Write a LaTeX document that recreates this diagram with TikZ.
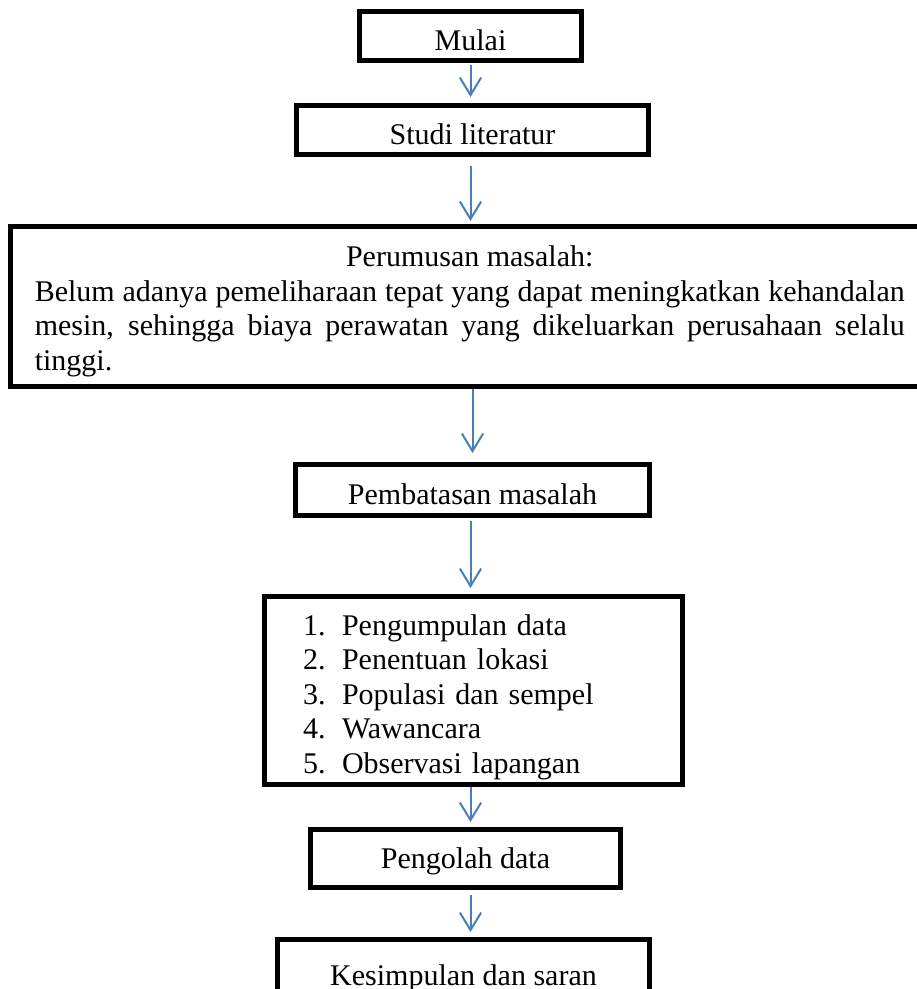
\documentclass[tikz,border=0pt]{standalone}
\usepackage{fontspec}
\setmainfont{Liberation Serif}
\usetikzlibrary{positioning,arrows.meta}
\definecolor{flowblue}{HTML}{4A7EBB}
\hyphenpenalty=10000
\tolerance=10000
\tikzset{
	stepbox/.style={
		draw, rectangle, line width=2pt, inner sep=0pt,
		minimum height=19.6pt, text height=14.4pt, text depth=2.6pt
	},
	bigbox/.style={
		draw, rectangle, line width=2pt, inner xsep=9.7pt, inner ysep=0pt,
		text width=348pt, align=justify, minimum height=64pt
	},
	listbox/.style={
		draw, rectangle, line width=2pt, inner xsep=15.4pt, inner ysep=0pt,
		text width=136.4pt, align=left, minimum height=75.2pt
	},
	flow/.style={
		-{Straight Barb[length=7pt,width=8.5pt]}, line width=0.8pt,
		draw=flowblue, shorten <=1.2pt, shorten >=2.4pt
	}
}
\begin{document}
\begin{tikzpicture}[font=\fontsize{12}{13.8}\selectfont]
				\useasboundingbox (0,0) rectangle (366.4pt,-395.6pt);
				\node[stepbox, minimum width=88.8pt] (mulai) at (188.2pt,-14.4pt) {Mulai};
				\node[stepbox, minimum width=140.8pt, below=16pt of mulai, xshift=0.8pt] (studi) {Studi literatur};
				\node[bigbox, below=26.8pt of studi, xshift=-1.1pt] (masalah) {\rule{0pt}{12pt}\hspace*{\fill}Perumusan masalah:\hspace*{\fill}\mbox{}\linebreak
					Belum adanya pemeliharaan tepat yang dapat meningkatkan kehandalan\linebreak
					mesin, sehingga biaya perawatan yang dikeluarkan perusahaan selalu\linebreak
					tinggi.};
				\node[stepbox, minimum width=141.6pt, minimum height=20.4pt, below=29.2pt of masalah, xshift=1.1pt] (batasan) {Pembatasan masalah};
				\node[listbox, below=30.4pt of batasan, xshift=0.4pt] (metode) {\rule{0pt}{13.4pt}\makebox[15.6pt][l]{1.}Pengumpulan data\\
					\makebox[15.6pt][l]{2.}Penentuan lokasi\\
					\makebox[15.6pt][l]{3.}Populasi dan sempel\\
					\makebox[15.6pt][l]{4.}Wawancara\\
					\makebox[15.6pt][l]{5.}Observasi lapangan};
				\node[stepbox, minimum width=124pt, minimum height=23.2pt, text height=10.2pt, below=16pt of metode, xshift=-3.2pt] (olah) {Pengolah data};
				\node[stepbox, minimum width=148.8pt, minimum height=24.6pt, below=18.8pt of olah, xshift=-0.8pt] (simpulan) {Kesimpulan dan saran};
				\draw[flow, shorten <=0.8pt] (mulai.south) -- (mulai.south |- studi.north);
				\draw[flow, shorten <=3.6pt, shorten >=1.2pt] (studi.south -| mulai.south) -- (masalah.north -| mulai.south);
				\draw[flow, shorten <=0pt, shorten >=3.6pt] (masalah.south -| batasan.north) -- (batasan.north);
				\draw[flow] (batasan.south -| mulai.south) -- (metode.north -| mulai.south);
				\draw[flow, shorten <=0pt, shorten >=2pt] (metode.south -| mulai.south) -- (olah.north -| mulai.south);
				\draw[flow, shorten <=2pt, shorten >=2pt] (olah.south -| mulai.south) -- (simpulan.north -| mulai.south);
			\end{tikzpicture}
\end{document}
